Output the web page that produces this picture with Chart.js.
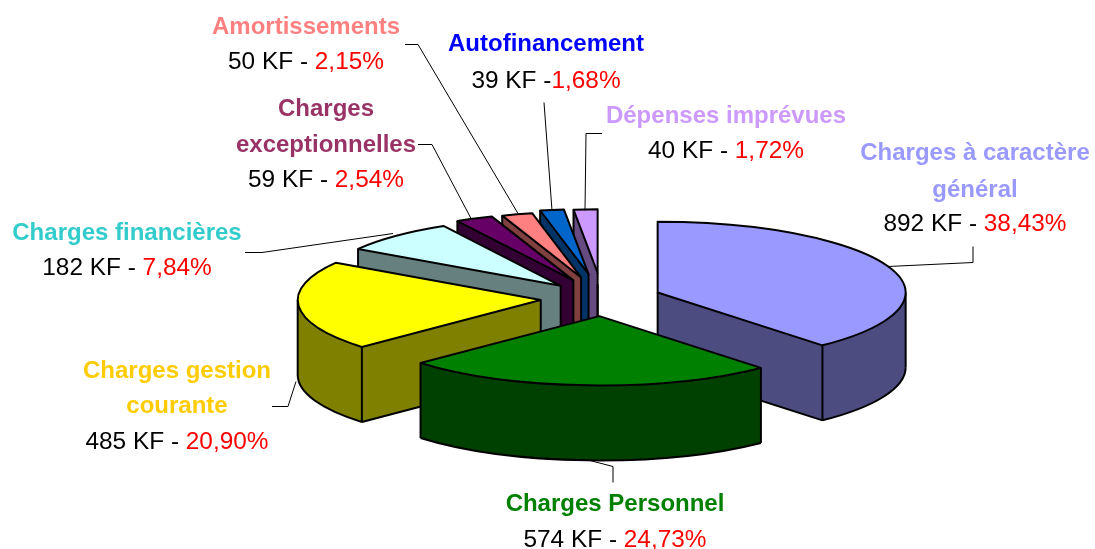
<!DOCTYPE html>
<html>
<head>
<meta charset="utf-8">
<title>Charges</title>
<script src="https://cdn.jsdelivr.net/npm/chart.js@4"></script>
<style>
  html, body { margin: 0; padding: 0; background: #fff; overflow: hidden; }
  canvas { display: block; }
</style>
</head>
<body>
<canvas id="pie" width="1095" height="549"></canvas>
<script>
// data
const categories = ['Charges à caractère général', 'Charges Personnel', 'Charges gestion courante', 'Charges financières',
    'Charges exceptionnelles', 'Amortissements', 'Autofinancement', 'Dépenses imprévues'];
const kfValues = [892, 574, 485, 182, 59, 50, 39, 40];
const percents = ['38,43%', '24,73%', '20,90%', '7,84%', '2,54%', '2,15%', '1,68%', '1,72%'];

// slice styles
const sliceColors = ['#9999ff', '#008000', '#ffff00', '#ccffff', '#660066', '#ff8080', '#0066cc', '#cc99ff'];
const wallColors = ['#4c4c80', '#004000', '#808000', '#668080', '#330033', '#804040', '#003366', '#664c80'];
const labelColors = ['#9999ff', '#008000', '#ffcc00', '#33cccc', '#993366', '#ff8080', '#0000ff', '#cc99ff'];

// 3d look
const explode = [59, 62, 62, 61, 70, 77, 87, 90];
const sliceScale = [1, 0.98, 0.98, 0.97, 0.96, 0.93, 0.92, 0.9];
const pieX = 602.5, pieY = 298.5, tilt = 0.285, depth = 75, radius = 248;

// label layout: x centre, baselines of the title lines, baseline of the value line
const labelLines = [
    { title: ['Charges à caractère', 'général'], x: 975, y: [160, 197], vy: 231, sep: ' - ' },
    { title: ['Charges Personnel'], x: 615, y: [511], vy: 547, sep: ' - ' },
    { title: ['Charges gestion', 'courante'], x: 177, y: [378, 413], vy: 449, sep: ' - ' },
    { title: ['Charges financières'], x: 127, y: [240], vy: 275, sep: ' - ' },
    { title: ['Charges', 'exceptionnelles'], x: 326, y: [116, 152], vy: 187, sep: ' - ' },
    { title: ['Amortissements'], x: 306, y: [34], vy: 69, sep: ' - ' },
    { title: ['Autofinancement'], x: 546, y: [51], vy: 88, sep: ' -' },
    { title: ['Dépenses imprévues'], x: 726, y: [123], vy: 158, sep: ' - ' }
];
const leaders = [
    [[973, 246], [973, 262], [888, 266]],
    [[613, 482], [613, 466], [590, 460]],
    [[272, 406], [288, 406], [296, 381]],
    [[245, 252], [262, 252], [393, 233]],
    [[418, 144], [432, 144], [471, 218]],
    [[405, 44], [418, 44], [518, 213]],
    [[544, 102], [552, 210]],
    [[602, 133], [586, 133], [585, 210]]
];

function sliceTransform(ctx, arc, i, dy) {
    const mid = (arc.startAngle + arc.endAngle) / 2;
    ctx.translate(pieX, pieY + dy);
    ctx.scale(1, tilt);
    ctx.translate(Math.cos(mid) * explode[i], Math.sin(mid) * explode[i]);
    ctx.scale(sliceScale[i], sliceScale[i]);
    ctx.translate(-arc.x, -arc.y);
}

function screenPoint(arc, i, angle, r) {
    const mid = (arc.startAngle + arc.endAngle) / 2;
    const s = sliceScale[i];
    return [
        pieX + Math.cos(mid) * explode[i] + Math.cos(angle) * r * s,
        pieY + (Math.sin(mid) * explode[i] + Math.sin(angle) * r * s) * tilt
    ];
}

function blackPen(ctx) {
    ctx.strokeStyle = '#000';
    ctx.lineWidth = 2;
    ctx.lineJoin = 'round';
}

function strokeTop(ctx, arc, i) {
    ctx.save();
    sliceTransform(ctx, arc, i, 0);
    ctx.beginPath();
    ctx.moveTo(arc.x, arc.y);
    ctx.arc(arc.x, arc.y, arc.outerRadius, arc.startAngle, arc.endAngle);
    ctx.closePath();
    ctx.restore();
    blackPen(ctx);
    ctx.stroke();
}

// only the bottom edges of the walls we can see
function strokeBottom(ctx, arc, i) {
    const s = arc.startAngle, e = arc.endAngle;
    ctx.save();
    sliceTransform(ctx, arc, i, depth);
    ctx.beginPath();
    const from = Math.max(s, 0), to = Math.min(e, Math.PI);
    if (from < to) {
        ctx.moveTo(arc.x + Math.cos(from) * arc.outerRadius, arc.y + Math.sin(from) * arc.outerRadius);
        ctx.arc(arc.x, arc.y, arc.outerRadius, from, to);
    }
    if (Math.cos(s) < 0) {
        ctx.moveTo(arc.x, arc.y);
        ctx.lineTo(arc.x + Math.cos(s) * arc.outerRadius, arc.y + Math.sin(s) * arc.outerRadius);
    }
    if (Math.cos(e) > 0) {
        ctx.moveTo(arc.x, arc.y);
        ctx.lineTo(arc.x + Math.cos(e) * arc.outerRadius, arc.y + Math.sin(e) * arc.outerRadius);
    }
    ctx.restore();
    blackPen(ctx);
    ctx.stroke();
}

function fillRadialWall(ctx, arc, i, angle) {
    const a = screenPoint(arc, i, 0, 0);
    const b = screenPoint(arc, i, angle, arc.outerRadius);
    ctx.beginPath();
    ctx.moveTo(a[0], a[1]);
    ctx.lineTo(b[0], b[1]);
    ctx.lineTo(b[0], b[1] + depth);
    ctx.lineTo(a[0], a[1] + depth);
    ctx.closePath();
    ctx.fill();
}

function fillWalls(ctx, arc, i) {
    const s = arc.startAngle, e = arc.endAngle;
    ctx.fillStyle = wallColors[i];
    if (Math.cos(s) < 0) fillRadialWall(ctx, arc, i, s);
    if (Math.cos(e) > 0) fillRadialWall(ctx, arc, i, e);
    const from = Math.max(s, 0), to = Math.min(e, Math.PI);
    if (from < to) {
        ctx.beginPath();
        ctx.save();
        sliceTransform(ctx, arc, i, 0);
        ctx.arc(arc.x, arc.y, arc.outerRadius, from, to);
        ctx.restore();
        ctx.save();
        sliceTransform(ctx, arc, i, depth);
        ctx.arc(arc.x, arc.y, arc.outerRadius, to, from, true);
        ctx.restore();
        ctx.closePath();
        ctx.fill();
    }
}

function drawTop(ctx, arc, i) {
    ctx.save();
    sliceTransform(ctx, arc, i, 0);
    arc.draw(ctx);
    ctx.restore();
}

function visibleEdges(arc) {
    const s = arc.startAngle, e = arc.endAngle, r = arc.outerRadius;
    const edges = [];
    if (Math.sin(s) > 0 || Math.cos(s) < -0.001) edges.push([s, r]);
    if (Math.sin(e) > 0 || Math.cos(e) > 0.001) edges.push([e, r]);
    if (Math.cos(s) < -0.001 || Math.cos(e) > 0.001) edges.push([0, 0]);
    [0, Math.PI].forEach(function (a) {
        if (a > s && a < e) edges.push([a, r]);
    });
    return edges;
}

function drawSlice(ctx, arc, i) {
    fillWalls(ctx, arc, i);
    strokeBottom(ctx, arc, i);
    blackPen(ctx);
    visibleEdges(arc).forEach(function (edge) {
        const p = screenPoint(arc, i, edge[0], edge[1]);
        ctx.beginPath();
        ctx.moveTo(p[0], p[1]);
        ctx.lineTo(p[0], p[1] + depth);
        ctx.stroke();
    });
    drawTop(ctx, arc, i);
    strokeTop(ctx, arc, i);
}

function drawLabels(ctx) {
    ctx.textBaseline = 'alphabetic';
    ctx.strokeStyle = '#000';
    ctx.lineWidth = 1;
    leaders.forEach(function (line) {
        ctx.beginPath();
        line.forEach(function (p, n) {
            if (n === 0) ctx.moveTo(p[0], p[1] + 0.5);
            else ctx.lineTo(p[0], p[1] + 0.5);
        });
        ctx.stroke();
    });
    labelLines.forEach(function (lab, i) {
        ctx.font = 'bold 24px "Liberation Sans"';
        ctx.textAlign = 'center';
        ctx.fillStyle = labelColors[i];
        lab.title.forEach(function (t, n) {
            ctx.fillText(t, lab.x, lab.y[n]);
        });
        ctx.font = '24.4px "Liberation Sans"';
        ctx.textAlign = 'left';
        const left = kfValues[i] + ' KF' + lab.sep;
        const w = ctx.measureText(left).width;
        const w2 = ctx.measureText(percents[i]).width;
        const x0 = lab.x - (w + w2) / 2;
        ctx.fillStyle = '#000';
        ctx.fillText(left, x0, lab.vy);
        ctx.fillStyle = '#ff0000';
        ctx.fillText(percents[i], x0 + w, lab.vy);
    });
}

const pie3d = {
    id: 'pie3d',
    beforeDatasetDraw: function (chart) {
        const ctx = chart.ctx;
        const arcs = chart.getDatasetMeta(0).data;
        const order = arcs.map(function (a, i) { return i; });
        // back slices first
        order.sort(function (a, b) {
            const ma = (arcs[a].startAngle + arcs[a].endAngle) / 2;
            const mb = (arcs[b].startAngle + arcs[b].endAngle) / 2;
            return Math.sin(ma) - Math.sin(mb);
        });
        order.forEach(function (i) {
            drawSlice(ctx, arcs[i], i);
        });
        return false;
    },
    afterDraw: function (chart) {
        drawLabels(chart.ctx);
    }
};

new Chart(document.getElementById('pie').getContext('2d'), {
    type: 'pie',
    data: {
        labels: categories,
        datasets: [{
            data: kfValues,
            backgroundColor: sliceColors,
            borderWidth: 0
        }]
    },
    options: {
        responsive: false,
        animation: false,
        radius: radius,
        plugins: {
            legend: { display: false },
            tooltip: { enabled: false }
        }
    },
    plugins: [pie3d]
});
</script>
</body>
</html>
